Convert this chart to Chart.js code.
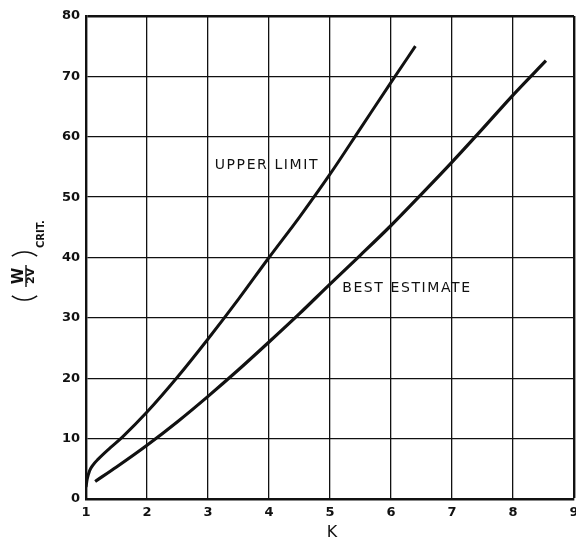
<!DOCTYPE html>
<html>
<head>
<meta charset="utf-8">
<script src="https://cdn.jsdelivr.net/npm/chart.js@4.4.1/dist/chart.umd.min.js"></script>
<style>
  html, body { margin: 0; padding: 0; background: #fff; }
  #wrap { width: 576px; height: 539px; }
</style>
</head>
<body>
<div id="wrap"><canvas id="critChart" width="576" height="539"></canvas></div>
<script>
// values
var upperK   = [1.0, 1.02, 1.06, 1.12, 1.2, 1.4, 1.6, 2.0, 2.5, 3.0, 3.5, 4.0, 4.5, 5.0, 5.5, 6.0, 6.4];
var upperVal = [2.0, 3.3, 4.7, 5.7, 6.6, 8.5, 10.3, 14.4, 20.2, 26.5, 33.1, 40.0, 46.7, 53.8, 61.4, 69.0, 75.0];
var bestK    = [1.15, 1.5, 2.0, 2.5, 3.0, 3.5, 4.0, 4.5, 5.0, 5.5, 6.0, 6.5, 7.0, 7.5, 8.0, 8.54];
var bestVal  = [2.9, 5.3, 8.9, 12.8, 17.0, 21.4, 26.0, 30.7, 35.6, 40.4, 45.3, 50.5, 55.8, 61.3, 66.9, 72.6];
var xTicks = [1, 2, 3, 4, 5, 6, 7, 8, 9];
var yTicks = [0, 10, 20, 30, 40, 50, 60, 70, 80];
var curveLabels = [
  { text: 'UPPER LIMIT', k: 3.11, v: 55.3 },
  { text: 'BEST ESTIMATE', k: 5.2, v: 34.9 }
];

function toPoints(xs, ys) {
  return xs.map(function(x, i) { return { x: x, y: ys[i] }; });
}

var ink = '#111';

// y title drawn by hand: (W / 2V) with CRIT. subscript
var yTitlePlugin = {
  id: 'yTitle',
  afterDraw: function(chart) {
    var ctx = chart.ctx;
    ctx.save();
    ctx.translate(24.5, 276);
    ctx.rotate(-Math.PI / 2);
    ctx.fillStyle = ink;
    ctx.strokeStyle = ink;
    ctx.textAlign = 'center';
    ctx.textBaseline = 'middle';
    // parentheses
    ctx.lineWidth = 1.7;
    ctx.beginPath();
    ctx.arc(-2.5, 0, 21.5, Math.PI * 0.8, Math.PI * 1.2);
    ctx.stroke();
    ctx.beginPath();
    ctx.arc(2.5, 0, 21.5, -Math.PI * 0.2, Math.PI * 0.2);
    ctx.stroke();
    // fraction
    ctx.font = 'bold 15px "DejaVu Sans"';
    ctx.fillText('W', 0, -5.5);
    ctx.font = 'bold 11px "DejaVu Sans"';
    ctx.fillText('2V', 0, 7);
    ctx.lineWidth = 1.4;
    ctx.beginPath();
    ctx.moveTo(-11, 1.5);
    ctx.lineTo(11, 1.5);
    ctx.stroke();
    // subscript
    ctx.font = 'bold 10px "DejaVu Sans"';
    ctx.textAlign = 'left';
    ctx.fillText('CRIT.', 28, 16.5);
    ctx.restore();
  }
};

var curveLabelPlugin = {
  id: 'curveLabels',
  afterDatasetsDraw: function(chart) {
    var ctx = chart.ctx;
    var xs = chart.scales.x, ys = chart.scales.y;
    ctx.save();
    ctx.fillStyle = ink;
    ctx.font = '14px "DejaVu Sans"';
    ctx.letterSpacing = '1.6px';
    ctx.textAlign = 'left';
    ctx.textBaseline = 'middle';
    curveLabels.forEach(function(l) {
      ctx.fillText(l.text, xs.getPixelForValue(l.k), ys.getPixelForValue(l.v));
    });
    // x title
    ctx.letterSpacing = '0px';
    ctx.textAlign = 'center';
    ctx.font = '16px "DejaVu Sans"';
    ctx.fillText('K', (xs.left + xs.right) / 2 + 2, 533);
    ctx.restore();
  }
};

var gridWidth = function(edge) {
  return function(c) { return c.tick && c.tick.value === edge ? 2.4 : 1.3; };
};

new Chart(document.getElementById('critChart'), {
  type: 'scatter',
  data: {
    datasets: [
      {
        label: 'Upper limit',
        data: toPoints(upperK, upperVal),
        showLine: true,
        borderColor: ink,
        borderWidth: 3,
        pointRadius: 0,
        cubicInterpolationMode: 'monotone',
        fill: false
      },
      {
        label: 'Best estimate',
        data: toPoints(bestK, bestVal),
        showLine: true,
        borderColor: ink,
        borderWidth: 3.2,
        pointRadius: 0,
        cubicInterpolationMode: 'monotone',
        fill: false
      }
    ]
  },
  options: {
    responsive: false,
    animation: false,
    devicePixelRatio: 1,
    layout: { padding: { top: 16, right: 2, left: 0, bottom: 0 } },
    plugins: {
      legend: { display: false },
      tooltip: { enabled: false }
    },
    scales: {
      x: {
        type: 'linear',
        min: 1, max: 9,
        afterBuildTicks: function(s) { s.ticks = xTicks.map(function(v) { return { value: v }; }); },
        afterFit: function(s) { s.height = 40; s.paddingLeft = 0; s.paddingRight = 0; },
        grid: { color: ink, lineWidth: gridWidth(9), drawTicks: false },
        border: { color: ink, width: 2.4 },
        ticks: { color: ink, padding: 6, font: { family: 'DejaVu Sans', size: 13, weight: 'bold' } }
      },
      y: {
        type: 'linear',
        min: 0, max: 80,
        afterBuildTicks: function(s) { s.ticks = yTicks.map(function(v) { return { value: v }; }); },
        afterFit: function(s) { s.width = 86; s.paddingTop = 0; s.paddingBottom = 0; },
        grid: { color: ink, lineWidth: gridWidth(80), drawTicks: false },
        border: { color: ink, width: 2.4 },
        ticks: { color: ink, padding: 6, font: { family: 'DejaVu Sans', size: 13, weight: 'bold' } }
      }
    }
  },
  plugins: [yTitlePlugin, curveLabelPlugin]
});
</script>
</body>
</html>
